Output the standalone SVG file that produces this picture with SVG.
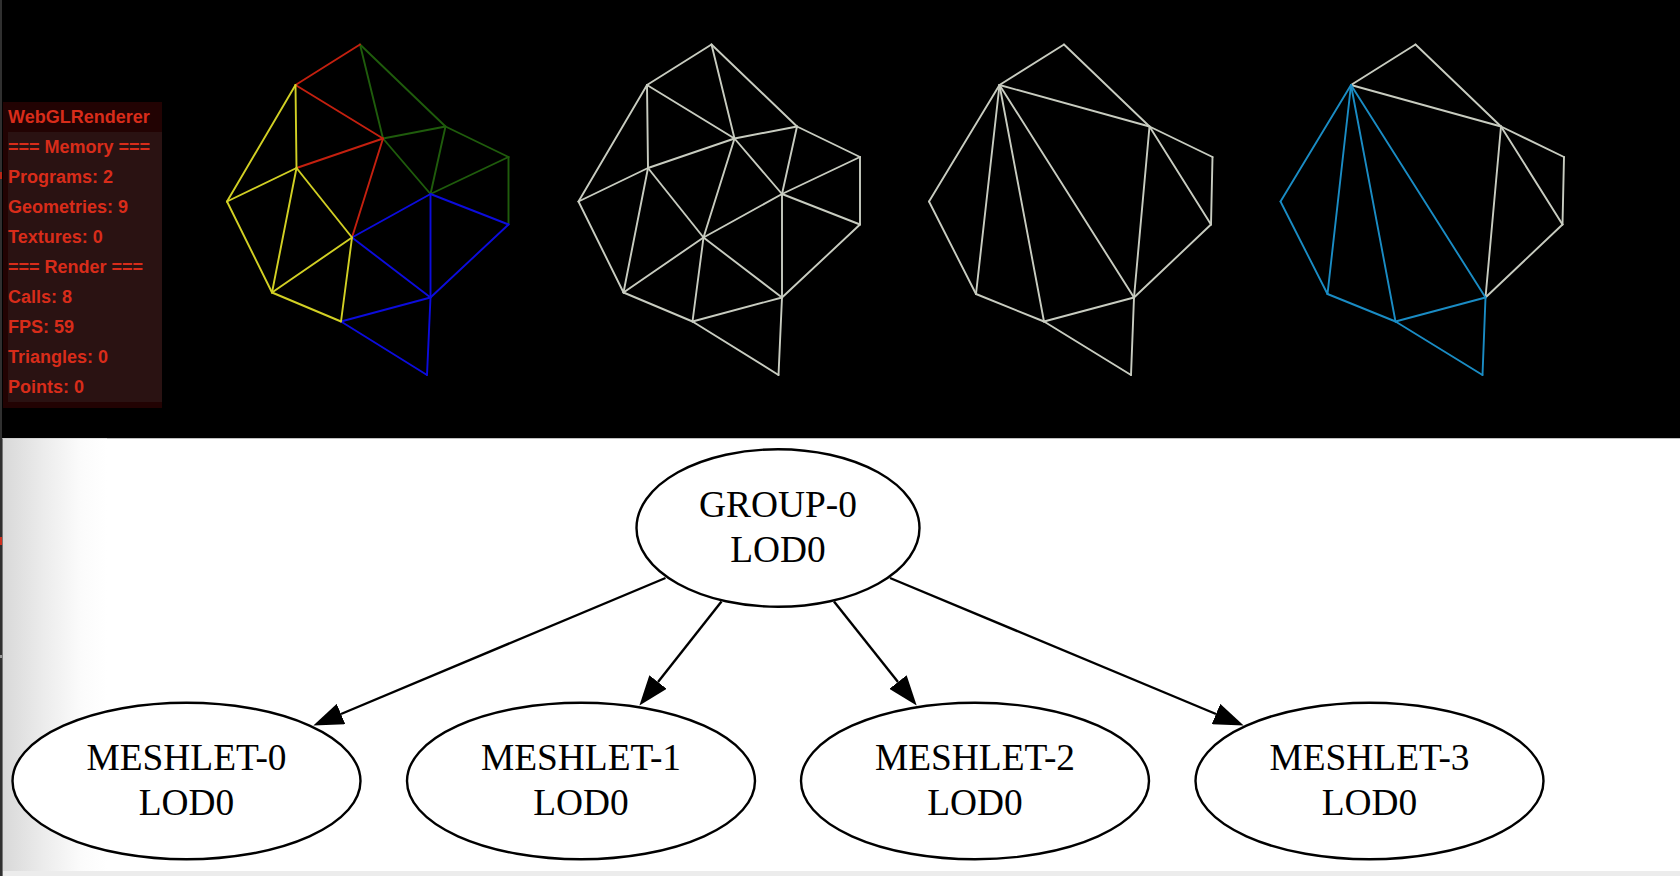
<svg xmlns="http://www.w3.org/2000/svg" width="1680" height="876" viewBox="0 0 1680 876">
<style>
.mesh line{stroke-width:1.9;stroke-linecap:round;fill:none}
.r{stroke:#c4200f}.g{stroke:#1f5c0c}.b{stroke:#0c0cdc}.y{stroke:#d2d024}.w{stroke:#c8ccc0}.c{stroke:#1a8cc4}
.stat{font-family:"Liberation Sans",Arial,sans-serif;font-weight:700;font-size:18px;fill:#d82c1a}
.node ellipse{fill:#fff;stroke:#000;stroke-width:2.4}
.node text{font-family:"Liberation Serif","Times New Roman",serif;font-size:37.4px;fill:#000;text-anchor:middle}
#connectors line{stroke:#000;stroke-width:2.4;marker-end:url(#arrow)}
</style>
<defs>
<marker id="arrow" markerUnits="userSpaceOnUse" viewBox="0 0 30 22" refX="0" refY="11" markerWidth="30" markerHeight="22" orient="auto"><polygon points="0,0 30,11 0,22" fill="#000"/></marker>
<linearGradient id="shade" x1="0" x2="1" y1="0" y2="0"><stop offset="0" stop-color="#d8d8d8"/><stop offset="0.4" stop-color="#ececec"/><stop offset="0.75" stop-color="#fbfbfb"/><stop offset="1" stop-color="#fff"/></linearGradient>
</defs>
<rect x="0" y="0" width="1680" height="438.5" fill="#000"/>
<rect x="0" y="438.5" width="1680" height="437.5" fill="#fff"/>
<rect x="2" y="438.5" width="105" height="437.5" fill="url(#shade)"/>
<rect x="0" y="871" width="1680" height="5" fill="#ececec"/>
<rect x="0" y="0" width="2" height="876" fill="#303030"/>
<rect x="2" y="438.5" width="1" height="437.5" fill="#777"/>
<rect x="0" y="172" width="2" height="7" fill="#b82818"/>
<rect x="0" y="537" width="2" height="8" fill="#d03020"/>
<rect x="0" y="655" width="2" height="3" fill="#999"/>
<g id="stats">
<rect x="3" y="102" width="159" height="306" fill="#220303"/>
<rect x="8" y="132" width="154" height="270" fill="#2a1212"/>
<text class="stat" x="8" y="123">WebGLRenderer</text>
<text class="stat" x="8" y="153">=== Memory ===</text>
<text class="stat" x="8" y="183">Programs: 2</text>
<text class="stat" x="8" y="213">Geometries: 9</text>
<text class="stat" x="8" y="243">Textures: 0</text>
<text class="stat" x="8" y="273">=== Render ===</text>
<text class="stat" x="8" y="303">Calls: 8</text>
<text class="stat" x="8" y="333">FPS: 59</text>
<text class="stat" x="8" y="363">Triangles: 0</text>
<text class="stat" x="8" y="393">Points: 0</text>
</g>
<g id="mesh-groups" class="mesh">
<line class="g" x1="360" y1="44.5" x2="383" y2="138.5"/><line class="g" x1="360" y1="44.5" x2="445.5" y2="126.5"/><line class="g" x1="383" y1="138.5" x2="445.5" y2="126.5"/><line class="g" x1="445.5" y1="126.5" x2="430.5" y2="194"/><line class="g" x1="445.5" y1="126.5" x2="508.5" y2="157"/><line class="g" x1="508.5" y1="157" x2="430.5" y2="194"/><line class="g" x1="508.5" y1="157" x2="508.5" y2="224.5"/><line class="g" x1="383" y1="138.5" x2="430.5" y2="194"/>
<line class="r" x1="360" y1="44.5" x2="295.5" y2="85"/><line class="r" x1="295.5" y1="85" x2="383" y2="138.5"/><line class="r" x1="296.5" y1="168" x2="383" y2="138.5"/><line class="r" x1="383" y1="138.5" x2="352" y2="237.5"/>
<line class="b" x1="430.5" y1="194" x2="352" y2="237.5"/><line class="b" x1="430.5" y1="194" x2="508.5" y2="224.5"/><line class="b" x1="430.5" y1="194" x2="430.5" y2="297.5"/><line class="b" x1="352" y1="237.5" x2="430.5" y2="297.5"/><line class="b" x1="508.5" y1="224.5" x2="430.5" y2="297.5"/><line class="b" x1="430.5" y1="297.5" x2="341" y2="321.5"/><line class="b" x1="341" y1="321.5" x2="427" y2="375"/><line class="b" x1="430.5" y1="297.5" x2="427" y2="375"/>
<line class="y" x1="295.5" y1="85" x2="227" y2="201.5"/><line class="y" x1="295.5" y1="85" x2="296.5" y2="168"/><line class="y" x1="296.5" y1="168" x2="227" y2="201.5"/><line class="y" x1="296.5" y1="168" x2="272" y2="292.5"/><line class="y" x1="296.5" y1="168" x2="352" y2="237.5"/><line class="y" x1="227" y1="201.5" x2="272" y2="292.5"/><line class="y" x1="272" y1="292.5" x2="352" y2="237.5"/><line class="y" x1="272" y1="292.5" x2="341" y2="321.5"/><line class="y" x1="352" y1="237.5" x2="341" y2="321.5"/>
</g>
<g id="mesh-triangles" class="mesh" transform="translate(351.5 0)">
<line class="w" x1="360" y1="44.5" x2="383" y2="138.5"/><line class="w" x1="360" y1="44.5" x2="445.5" y2="126.5"/><line class="w" x1="383" y1="138.5" x2="445.5" y2="126.5"/><line class="w" x1="445.5" y1="126.5" x2="430.5" y2="194"/><line class="w" x1="445.5" y1="126.5" x2="508.5" y2="157"/><line class="w" x1="508.5" y1="157" x2="430.5" y2="194"/><line class="w" x1="508.5" y1="157" x2="508.5" y2="224.5"/><line class="w" x1="383" y1="138.5" x2="430.5" y2="194"/>
<line class="w" x1="360" y1="44.5" x2="295.5" y2="85"/><line class="w" x1="295.5" y1="85" x2="383" y2="138.5"/><line class="w" x1="296.5" y1="168" x2="383" y2="138.5"/><line class="w" x1="383" y1="138.5" x2="352" y2="237.5"/>
<line class="w" x1="430.5" y1="194" x2="352" y2="237.5"/><line class="w" x1="430.5" y1="194" x2="508.5" y2="224.5"/><line class="w" x1="430.5" y1="194" x2="430.5" y2="297.5"/><line class="w" x1="352" y1="237.5" x2="430.5" y2="297.5"/><line class="w" x1="508.5" y1="224.5" x2="430.5" y2="297.5"/><line class="w" x1="430.5" y1="297.5" x2="341" y2="321.5"/><line class="w" x1="341" y1="321.5" x2="427" y2="375"/><line class="w" x1="430.5" y1="297.5" x2="427" y2="375"/>
<line class="w" x1="295.5" y1="85" x2="227" y2="201.5"/><line class="w" x1="295.5" y1="85" x2="296.5" y2="168"/><line class="w" x1="296.5" y1="168" x2="227" y2="201.5"/><line class="w" x1="296.5" y1="168" x2="272" y2="292.5"/><line class="w" x1="296.5" y1="168" x2="352" y2="237.5"/><line class="w" x1="227" y1="201.5" x2="272" y2="292.5"/><line class="w" x1="272" y1="292.5" x2="352" y2="237.5"/><line class="w" x1="272" y1="292.5" x2="341" y2="321.5"/><line class="w" x1="352" y1="237.5" x2="341" y2="321.5"/>
</g>
<g id="mesh-merged" class="mesh" transform="translate(704 0)">
<line class="w" x1="360" y1="44.5" x2="295.5" y2="85"/><line class="w" x1="360" y1="44.5" x2="445.5" y2="126.5"/><line class="w" x1="295.5" y1="85" x2="445.5" y2="126.5"/><line class="w" x1="445.5" y1="126.5" x2="508.5" y2="157"/><line class="w" x1="508.5" y1="157" x2="507" y2="224.5"/><line class="w" x1="445.5" y1="126.5" x2="507" y2="224.5"/><line class="w" x1="507" y1="224.5" x2="430" y2="297.5"/><line class="w" x1="445.5" y1="126.5" x2="430" y2="297.5"/>
<line class="w" x1="295.5" y1="85" x2="225" y2="201.5"/><line class="w" x1="295.5" y1="85" x2="272" y2="294"/><line class="w" x1="295.5" y1="85" x2="340" y2="321.5"/><line class="w" x1="295.5" y1="85" x2="430" y2="297.5"/><line class="w" x1="225" y1="201.5" x2="272" y2="294"/><line class="w" x1="272" y1="294" x2="340" y2="321.5"/><line class="w" x1="340" y1="321.5" x2="430" y2="297.5"/><line class="w" x1="340" y1="321.5" x2="427" y2="375"/><line class="w" x1="430" y1="297.5" x2="427" y2="375"/>
</g>
<g id="mesh-highlight" class="mesh" transform="translate(1055.5 0)">
<line class="w" x1="360" y1="44.5" x2="295.5" y2="85"/><line class="w" x1="360" y1="44.5" x2="445.5" y2="126.5"/><line class="w" x1="295.5" y1="85" x2="445.5" y2="126.5"/><line class="w" x1="445.5" y1="126.5" x2="508.5" y2="157"/><line class="w" x1="508.5" y1="157" x2="507" y2="224.5"/><line class="w" x1="445.5" y1="126.5" x2="507" y2="224.5"/><line class="w" x1="507" y1="224.5" x2="430" y2="297.5"/><line class="w" x1="445.5" y1="126.5" x2="430" y2="297.5"/>
<line class="c" x1="295.5" y1="85" x2="225" y2="201.5"/><line class="c" x1="295.5" y1="85" x2="272" y2="294"/><line class="c" x1="295.5" y1="85" x2="340" y2="321.5"/><line class="c" x1="295.5" y1="85" x2="430" y2="297.5"/><line class="c" x1="225" y1="201.5" x2="272" y2="294"/><line class="c" x1="272" y1="294" x2="340" y2="321.5"/><line class="c" x1="340" y1="321.5" x2="430" y2="297.5"/><line class="c" x1="340" y1="321.5" x2="427" y2="375"/><line class="c" x1="430" y1="297.5" x2="427" y2="375"/>
</g>
<g id="connectors">
<line x1="665.5" y1="578" x2="341" y2="714"/>
<line x1="721.5" y1="601.5" x2="658" y2="682"/>
<line x1="834" y1="601.5" x2="898" y2="682"/>
<line x1="890" y1="578" x2="1216" y2="714"/>
</g>
<g id="group-0" class="node"><ellipse cx="778" cy="528" rx="141.5" ry="78.8"/><text x="778" y="517">GROUP-0</text><text x="778" y="562">LOD0</text></g>
<g id="meshlet-0" class="node"><ellipse cx="186.5" cy="781" rx="174" ry="78.3"/><text x="186.5" y="770">MESHLET-0</text><text x="186.5" y="815">LOD0</text></g>
<g id="meshlet-1" class="node"><ellipse cx="581" cy="781" rx="174" ry="78.3"/><text x="581" y="770">MESHLET-1</text><text x="581" y="815">LOD0</text></g>
<g id="meshlet-2" class="node"><ellipse cx="975" cy="781" rx="174" ry="78.3"/><text x="975" y="770">MESHLET-2</text><text x="975" y="815">LOD0</text></g>
<g id="meshlet-3" class="node"><ellipse cx="1369.5" cy="781" rx="174" ry="78.3"/><text x="1369.5" y="770">MESHLET-3</text><text x="1369.5" y="815">LOD0</text></g>
</svg>
